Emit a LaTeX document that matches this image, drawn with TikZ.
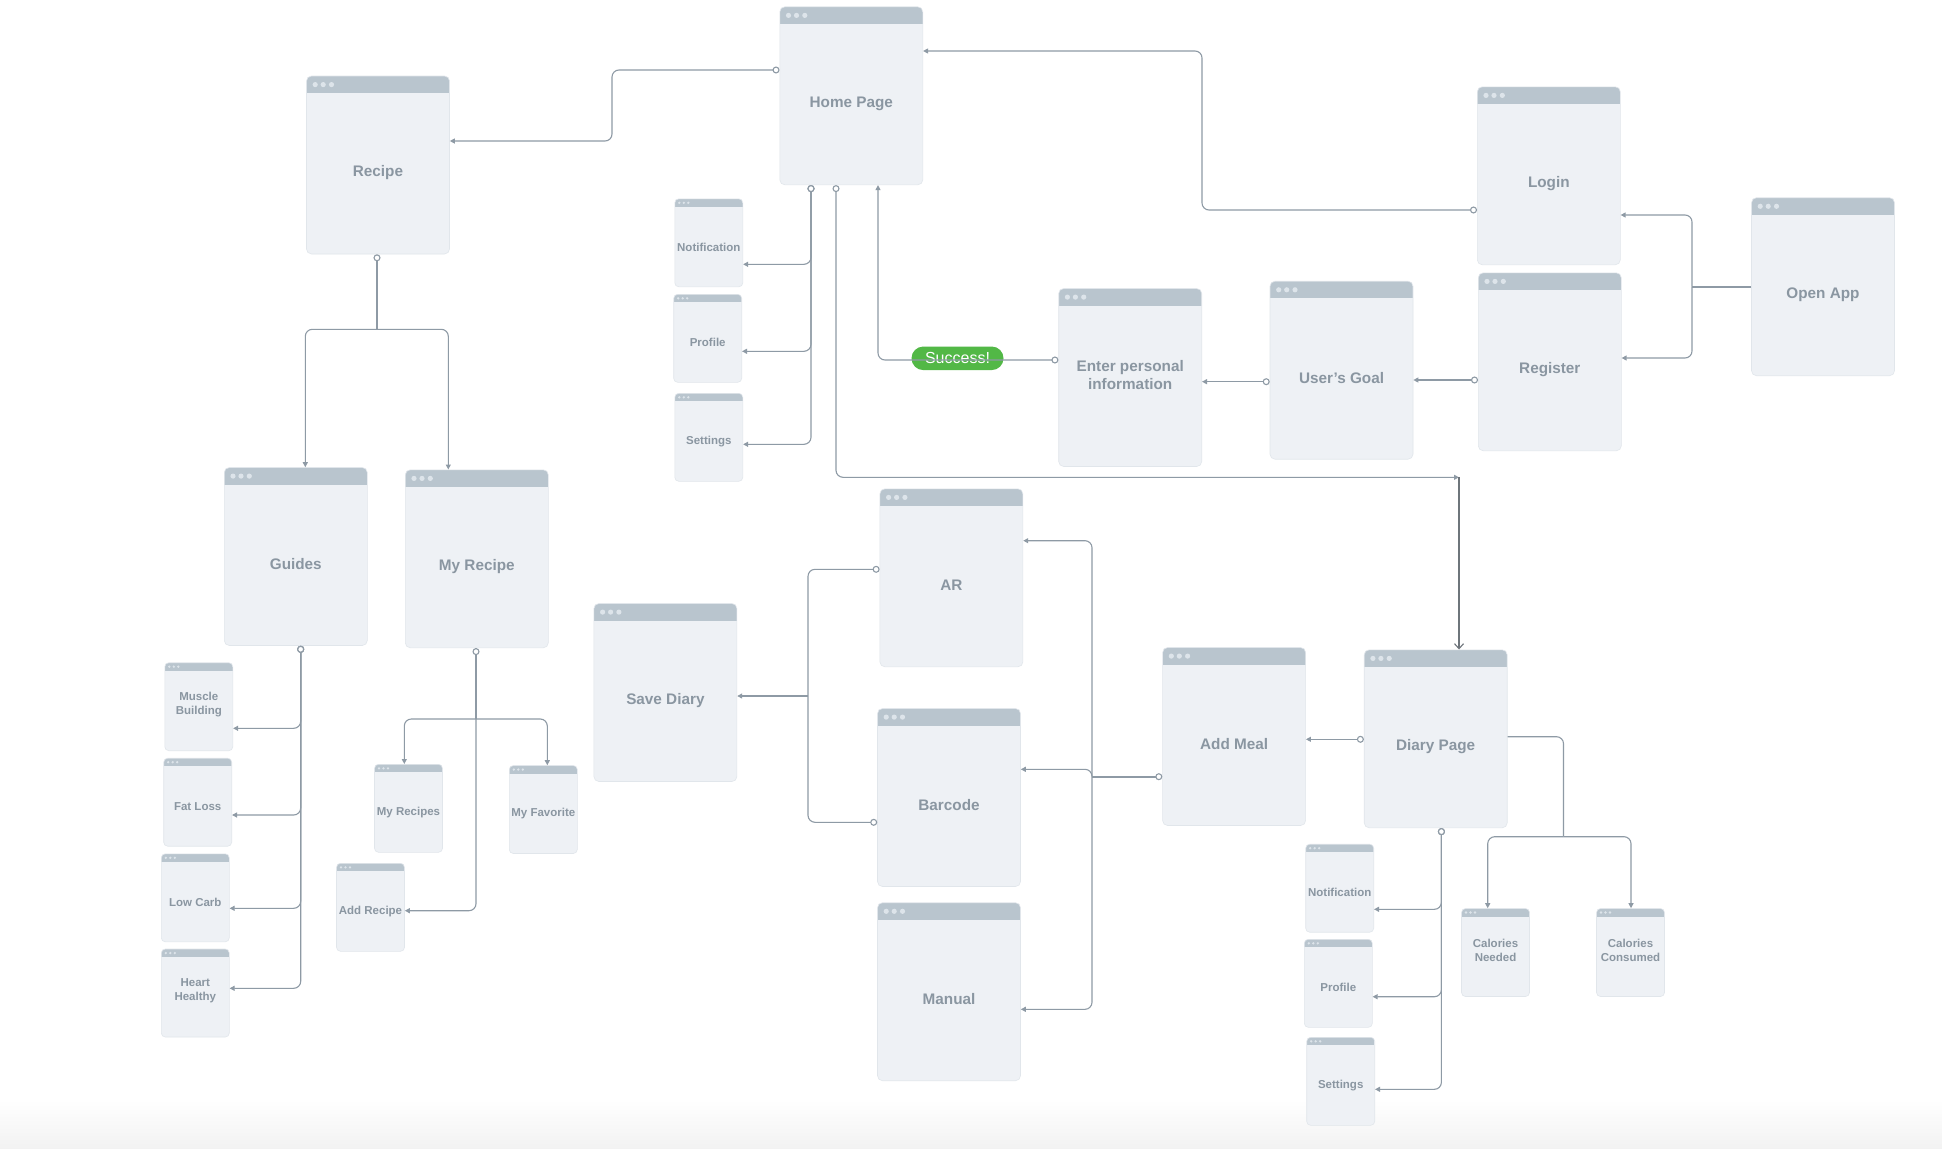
\documentclass[tikz,border=0pt]{standalone}
\usepackage{fontspec}
\setmainfont{Liberation Sans}
\usetikzlibrary{arrows.meta,calc}
\definecolor{BodyClr}{HTML}{EEF1F5}
\definecolor{HeadClr}{HTML}{B9C5CE}
\definecolor{DotClr}{HTML}{DDE4EA}
\definecolor{EdgeClr}{HTML}{E1E6EB}
\definecolor{TextClr}{HTML}{8A96A1}
\definecolor{LinkClr}{HTML}{8E9AA5}
\definecolor{LinkDark}{HTML}{6E757B}
\definecolor{OkClr}{HTML}{52B846}

\tikzset{
  screen/.style={draw=EdgeClr, line width=.6pt, fill=BodyClr, rounded corners=5pt,
    minimum width=143pt, minimum height=178pt, inner sep=0pt,
    path picture={
      \fill[HeadClr,sharp corners] (path picture bounding box.north west) rectangle
        ([yshift=-17pt]path picture bounding box.north east);
      \foreach \dx in {8.7,16.7,25}
        \fill[DotClr] ([xshift=\dx pt,yshift=-8.6pt]path picture bounding box.north west) circle (2.6pt);
    }},
  mini/.style={draw=EdgeClr, line width=.6pt, fill=BodyClr, rounded corners=4pt,
    minimum width=68pt, minimum height=88pt, inner sep=0pt,
    path picture={
      \fill[HeadClr,sharp corners] (path picture bounding box.north west) rectangle
        ([yshift=-8pt]path picture bounding box.north east);
      \foreach \dx in {4.5,9,13.5}
        \fill[DotClr] ([xshift=\dx pt,yshift=-4pt]path picture bounding box.north west) circle (1.3pt);
    }},
  txtbase/.style={text=TextClr, align=center, inner sep=0pt},
  bigtxt/.style={txtbase, font=\bfseries\fontsize{15.3}{17.3}\selectfont, yshift=-7.6pt},
  bigtxtii/.style={txtbase, font=\bfseries\fontsize{15.3}{17.3}\selectfont, yshift=2.5pt},
  smalltxt/.style={txtbase, font=\bfseries\fontsize{11.5}{14.3}\selectfont, yshift=-4.5pt},
  smalltxtii/.style={txtbase, font=\bfseries\fontsize{11.5}{14.3}\selectfont, yshift=2pt},
  okpill/.style={fill=OkClr, rounded corners=11.7pt, minimum width=92pt, minimum height=23.5pt,
    inner sep=0pt, text=white, font=\fontsize{16}{18}\selectfont},
  link/.style={draw=LinkClr, line width=1.1pt, rounded corners=7pt},
  stem/.style={line width=1.7pt},
  arr/.style={arrows={-Triangle[length=5pt,width=5pt]}},
  port/.style={arrows={Circle[length=7pt,fill=white,line width=1.1pt]-Triangle[length=5pt,width=5pt]}},
  dlink/.style={draw=LinkDark, line width=1.1pt, arrows={-Straight Barb[length=5pt,width=9pt]}}
}

\begin{document}
\begin{tikzpicture}[x=1pt,y=-1pt]
\fill[white] (0,0) rectangle (1942,1148);
\shade[top color=white,bottom color=black!5] (0,1100) rectangle (1942,1148);
\useasboundingbox (0,0) rectangle (1942,1148);

% main screens
\node[screen,label={[bigtxt]center:Home Page}] (home) at (851.3,95.8) {};
\node[screen,label={[bigtxt]center:Recipe}] (recipe) at (378,165) {};
\node[screen,label={[bigtxt]center:Login}] (login) at (1548.8,175.8) {};
\node[screen,label={[bigtxt]center:Register}] (register) at (1549.8,361.8) {};
\node[screen,label={[bigtxt]center:Open App}] (openapp) at (1823,286.7) {};
\node[screen,label={[bigtxtii]center:Enter personal\\information}] (info) at (1130.2,377.5) {};
\node[screen,label={[bigtxt]center:User’s Goal}] (goal) at (1341.5,370.2) {};
\node[screen,label={[bigtxt]center:Guides}] (guides) at (295.8,556.5) {};
\node[screen,label={[bigtxt]center:My Recipe}] (myrecipe) at (476.8,558.8) {};
\node[screen,label={[bigtxt]center:Save Diary}] (save) at (665.4,692.5) {};
\node[screen,label={[bigtxt]center:AR}] (ar) at (951.4,577.8) {};
\node[screen,label={[bigtxt]center:Barcode}] (barcode) at (949,797.5) {};
\node[screen,label={[bigtxt]center:Manual}] (manual) at (949,991.7) {};
\node[screen,label={[bigtxt]center:Add Meal}] (addmeal) at (1234.1,736.5) {};
\node[screen,label={[bigtxt]center:Diary Page}] (diary) at (1435.7,738.8) {};

% small screens
\node[mini,label={[smalltxt]center:Notification}] (notif1) at (708.8,242.8) {};
\node[mini,label={[smalltxt]center:Profile}] (profile1) at (707.7,338.3) {};
\node[mini,label={[smalltxt]center:Settings}] (settings1) at (708.8,437.3) {};
\node[mini,label={[smalltxtii]center:Muscle\\Building}] (muscle) at (198.8,706.7) {};
\node[mini,label={[smalltxt]center:Fat Loss}] (fatloss) at (197.7,802.2) {};
\node[mini,label={[smalltxt]center:Low Carb}] (lowcarb) at (195.3,897.8) {};
\node[mini,label={[smalltxtii]center:Heart\\Healthy}] (heart) at (195.3,993) {};
\node[mini,label={[smalltxt]center:My Recipes}] (myrecipes) at (408.5,808.3) {};
\node[mini,label={[smalltxt]center:My Favorite}] (myfav) at (543.3,809.5) {};
\node[mini,label={[smalltxt]center:Add Recipe}] (addrecipe) at (370.5,907.3) {};
\node[mini,label={[smalltxt]center:Notification}] (notif2) at (1339.7,888.2) {};
\node[mini,label={[smalltxt]center:Profile}] (profile2) at (1338.3,983.3) {};
\node[mini,label={[smalltxt]center:Settings}] (settings2) at (1340.7,1081.3) {};
\node[mini,label={[smalltxtii]center:Calories\\Needed}] (calneed) at (1495.5,952.5) {};
\node[mini,label={[smalltxtii]center:Calories\\Consumed}] (calcons) at (1630.5,952.5) {};

% login / register flow
\coordinate (oj) at (1692,286.7);
\draw[link,stem] (openapp.west) -- (oj);
\draw[link,arr] (oj) |- (login.east|-0,215);
\draw[link,arr] (oj) |- (register.east|-0,358);
\draw[link,port] (login.west|-0,210) -| (1202,51) -- (home.east|-0,51);
\draw[link,port] (register.west|-0,380) -- (goal.east|-0,380);
\draw[link,port] (goal.west|-0,381.7) -- (info.east|-0,381.7);
\node[okpill] (ok) at (957.5,358.3) {Success!};
\draw[link,port] (info.west|-0,360) -| (home.south-|878,0);

% home page
\draw[link,port] (home.west|-0,70) -| (612,141) -- (recipe.east|-0,141);
\foreach \nm/\y in {notif1/264.3,profile1/351.3,settings1/444.3}
  \draw[link,port] (home.south-|811,0) |- (\nm.east|-0,\y);
\coordinate (dj) at (1459,477.3);
\draw[link,port] (home.south-|836,0) |- (dj);
\draw[dlink] (dj) -- (diary.north-|dj);

% recipe
\coordinate (rj) at (377,329.3);
\draw[link,stem,port,arrows={Circle[length=7pt,fill=white,line width=1.1pt]-}] (recipe.south-|rj) -- (rj);
\draw[link,arr] (rj) -| (guides.north-|305.3,0);
\draw[link,arr] (rj) -| (myrecipe.north-|448.3,0);
\foreach \nm/\y in {muscle/728.3,fatloss/815,lowcarb/908.3,heart/988.3}
  \draw[link,port] (guides.south-|300.7,0) |- (\nm.east|-0,\y);
\coordinate (mj) at (476,719);
\draw[link,stem] (myrecipe.south-|mj) -- (mj);
\draw[link,port] (myrecipe.south-|mj) |- (addrecipe.east|-0,910.7);
\draw[link,arr] (mj) -| (myrecipes.north-|404.3,0);
\draw[link,arr] (mj) -| (myfav.north-|547.3,0);

% meal entry
\coordinate (sj) at (808,696);
\draw[link,arrows={Circle[length=7pt,fill=white]-Circle[length=7pt,fill=white]}] (ar.west|-0,569.3) -| (sj) |- (barcode.west|-0,822.3);
\draw[link,stem,arr] (sj) -- (save.east|-0,696);
\coordinate (aj) at (1092,776.7);
\draw[link,stem,arrows={Circle[length=7pt,fill=white,line width=1.1pt]-}] (addmeal.west|-0,776.7) -- (aj);
\foreach \nm/\y in {ar/540.7,barcode/769.3,manual/1009.3}
  \draw[link,arr] (aj) |- (\nm.east|-0,\y);

% diary page
\draw[link,port] (diary.west|-0,739.3) -- (addmeal.east|-0,739.3);
\foreach \nm/\y in {notif2/909.3,profile2/996.7,settings2/1089.3}
  \draw[link,port] (diary.south-|1441.4,0) |- (\nm.east|-0,\y);
\coordinate (cj) at (1563.5,836.7);
\draw[link] (diary.east|-0,736.7) -| (cj);
\draw[link,arr] (cj) -| (calneed.north-|1487.7,0);
\draw[link,arr] (cj) -| (calcons.north-|1631,0);

\end{tikzpicture}
\end{document}
